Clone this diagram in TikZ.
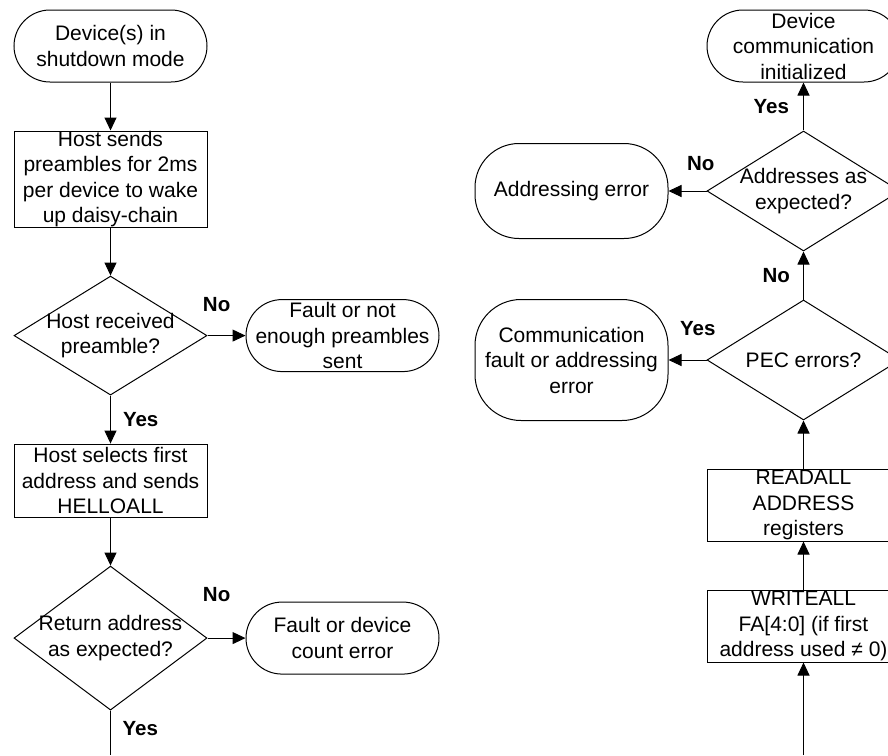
\documentclass[tikz,border=0pt]{standalone}
\usepackage{fontspec}
\setmainfont{Liberation Sans}
\usepackage{xcolor}
\definecolor{FlowInk}{HTML}{000000}
\usepackage{tikz}
\usetikzlibrary{positioning,arrows.meta,shapes.geometric}
\tikzset{
  termbox/.style={draw=FlowInk,line width=1pt,rounded corners=36pt,align=center,inner sep=0pt,minimum width=193pt,minimum height=72pt,font=\fontsize{21}{25.5}\selectfont},
  procbox/.style={draw=FlowInk,line width=1pt,align=center,inner sep=0pt,minimum width=193pt,minimum height=72pt,font=\fontsize{21}{25.5}\selectfont},
  decbox/.style={diamond,draw=FlowInk,line width=1pt,align=center,aspect=1.62,inner xsep=-40pt,inner ysep=-15pt,minimum width=193pt,minimum height=120pt,font=\fontsize{21}{25.5}\selectfont},
  flow/.style={-{Triangle[length=13pt,width=12pt]},draw=FlowInk,line width=1pt},
  lbl/.style={font=\fontsize{20.5}{24}\selectfont\bfseries,inner sep=0pt}
}

\begin{document}
\begin{tikzpicture}[x=1pt,y=-1pt,node distance=48pt and 38pt]
  \useasboundingbox (0,0) rectangle (888,755);
  \clip (0,0) rectangle (888,755);
  % left column
  \node[termbox] (shutdown) at (110.5,46) {Device(s) in\\shutdown mode};
  \node[procbox,minimum height=96pt,below=of shutdown] (preamble) {Host sends\\preambles for 2ms\\per device to wake\\up daisy-chain};
  \node[decbox,minimum height=119pt,below=of preamble] (gotpre) {Host received\\preamble?};
  \node[termbox,right=of gotpre] (notenough) {Fault or not\\enough preambles\\sent};
  \node[procbox,minimum height=73pt,below=of gotpre] (hello) {Host selects first\\address and sends\\HELLOALL};
  \node[decbox,minimum height=144pt,below=of hello] (retaddr) {Return address\\as expected?};
  \node[termbox,right=of retaddr] (counterr) {Fault or device\\count error};
  \coordinate (leftout) at (retaddr.south |- 0,755);
  % right column
  \node[termbox] (commok) at (803.5,46) {Device\\communication\\initialized};
  \node[decbox,below=of commok] (addrok) {Addresses as\\expected?};
  \node[termbox,minimum height=95pt,rounded corners=44pt,left=of addrok] (addrerr) {Addressing error};
  \node[decbox,below=of addrok] (pecchk) {PEC errors?};
  \node[termbox,minimum height=121pt,rounded corners=46pt,left=of pecchk] (commerr) {Communication\\fault or addressing\\error};
  \node[procbox,below=of pecchk] (readaddr) {READALL\\ADDRESS\\registers};
  \node[procbox,below=of readaddr] (writefa) {WRITEALL\\FA[4:0] (if first\\address used ≠ 0)};
  \coordinate (rightin) at (writefa.south |- 0,755);

  \draw[flow] (shutdown) -- (preamble);
  \draw[flow] (preamble) -- (gotpre);
  \draw[flow] (gotpre) -- node[lbl,pos=.24,yshift=31pt]{No} (notenough);
  \draw[flow] (gotpre) -- node[lbl,right=12pt]{Yes} (hello);
  \draw[flow] (hello) -- (retaddr);
  \draw[flow] (retaddr) -- node[lbl,pos=.24,yshift=44pt]{No} (counterr);
  \draw (retaddr.south) -- node[lbl,pos=.4,right=12pt]{Yes} (leftout);

  \draw[flow] (rightin) -- (writefa);
  \draw[flow] (writefa) -- (readaddr);
  \draw[flow] (readaddr) -- (pecchk);
  \draw[flow] (pecchk) -- node[lbl,pos=.23,yshift=31pt]{Yes} (commerr);
  \draw[flow] (pecchk) -- node[lbl,left=13pt]{No} (addrok);
  \draw[flow] (addrok) -- node[lbl,pos=.15,yshift=27pt]{No} (addrerr);
  \draw[flow] (addrok) -- node[lbl,left=14pt]{Yes} (commok);
\end{tikzpicture}
\end{document}
